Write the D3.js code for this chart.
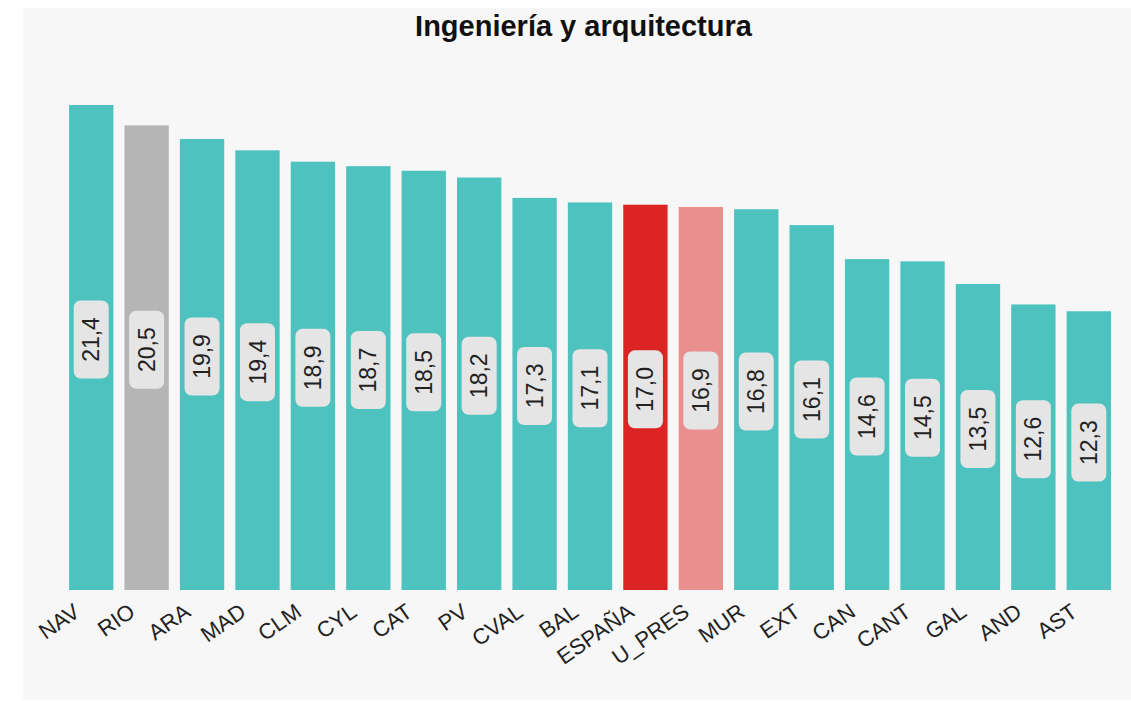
<!DOCTYPE html>
<html>
<head>
<meta charset="utf-8">
<script src="https://cdn.jsdelivr.net/npm/d3@7/dist/d3.min.js"></script>
<style>
  html, body { margin: 0; padding: 0; background: #ffffff; }
  svg { display: block; font-family: "Liberation Sans", Arial, sans-serif; }
</style>
</head>
<body>
<svg id="chart" width="1131" height="701"></svg>
<script>
// Regions ordered by value
const categories = ["NAV", "RIO", "ARA", "MAD", "CLM", "CYL", "CAT", "PV", "CVAL", "BAL",
                    "ESPAÑA", "U_PRES", "MUR", "EXT", "CAN", "CANT", "GAL", "AND", "AST"];
const values = [21.4, 20.5, 19.9, 19.4, 18.9, 18.7, 18.5, 18.2, 17.3, 17.1,
                17.0, 16.9, 16.8, 16.1, 14.6, 14.5, 13.5, 12.6, 12.3];
const chartTitle = "Ingeniería y arquitectura";

// Highlighted regions get their own fill
const highlight = { "RIO": "#b5b5b5", "ESPAÑA": "#dc2424", "U_PRES": "#e98f8e" };
const baseColor = "#4ec2bf";

const data = categories.map((c, i) => ({ cat: c, val: values[i] }));

const svg = d3.select("#chart");

// Panel background
svg.append("rect")
  .attr("x", 23).attr("y", 8)
  .attr("width", 1131 - 23).attr("height", 692)
  .attr("fill", "#f7f7f7");

const x = d3.scaleBand()
  .domain(categories)
  .range([63.5, 1116.5])
  .paddingInner(0.2)
  .paddingOuter(0.1);

const y = d3.scaleLinear()
  .domain([0, 25])
  .range([590, 23.4]);

// Title
svg.append("text")
  .attr("x", 583.5).attr("y", 36)
  .attr("text-anchor", "middle")
  .attr("font-size", 29)
  .attr("font-weight", "bold")
  .attr("fill", "#111")
  .text(chartTitle);

// Bars
svg.append("g").selectAll("rect")
  .data(data)
  .join("rect")
  .attr("x", d => x(d.cat))
  .attr("y", d => y(d.val))
  .attr("width", x.bandwidth())
  .attr("height", d => y(0) - y(d.val))
  .attr("fill", d => highlight[d.cat] || baseColor);

// Category axis labels
const xAxis = d3.axisBottom(x).tickSize(0).tickPadding(0);
const gx = svg.append("g")
  .attr("transform", `translate(0,${y(0)})`)
  .call(xAxis);
gx.select(".domain").remove();
gx.selectAll("text")
  .attr("font-size", 22)
  .attr("font-family", "'Liberation Sans', Arial, sans-serif")
  .attr("fill", "#222")
  .attr("text-anchor", "end")
  .attr("dy", null)
  .attr("y", null)
  .attr("transform", "translate(-10,25) rotate(-35)");

// Value labels, rotated, in rounded boxes near the middle of each bar
const fmt = v => d3.format(".1f")(v).replace(".", ",");
const lab = svg.append("g").selectAll("g")
  .data(data)
  .join("g")
  .attr("transform", d => {
    const cx = x(d.cat) + x.bandwidth() / 2;
    const cy = (y(d.val) + y(0)) / 2 - 8;
    return `translate(${cx},${cy}) rotate(-90)`;
  });

lab.append("rect")
  .attr("x", -39).attr("y", -17.5)
  .attr("width", 78).attr("height", 35)
  .attr("rx", 7).attr("ry", 7)
  .attr("fill", "#e5e5e5");

lab.append("text")
  .attr("text-anchor", "middle")
  .attr("dy", "0.35em")
  .attr("font-size", 23)
  .attr("fill", "#222")
  .text(d => fmt(d.val));
</script>
</body>
</html>
